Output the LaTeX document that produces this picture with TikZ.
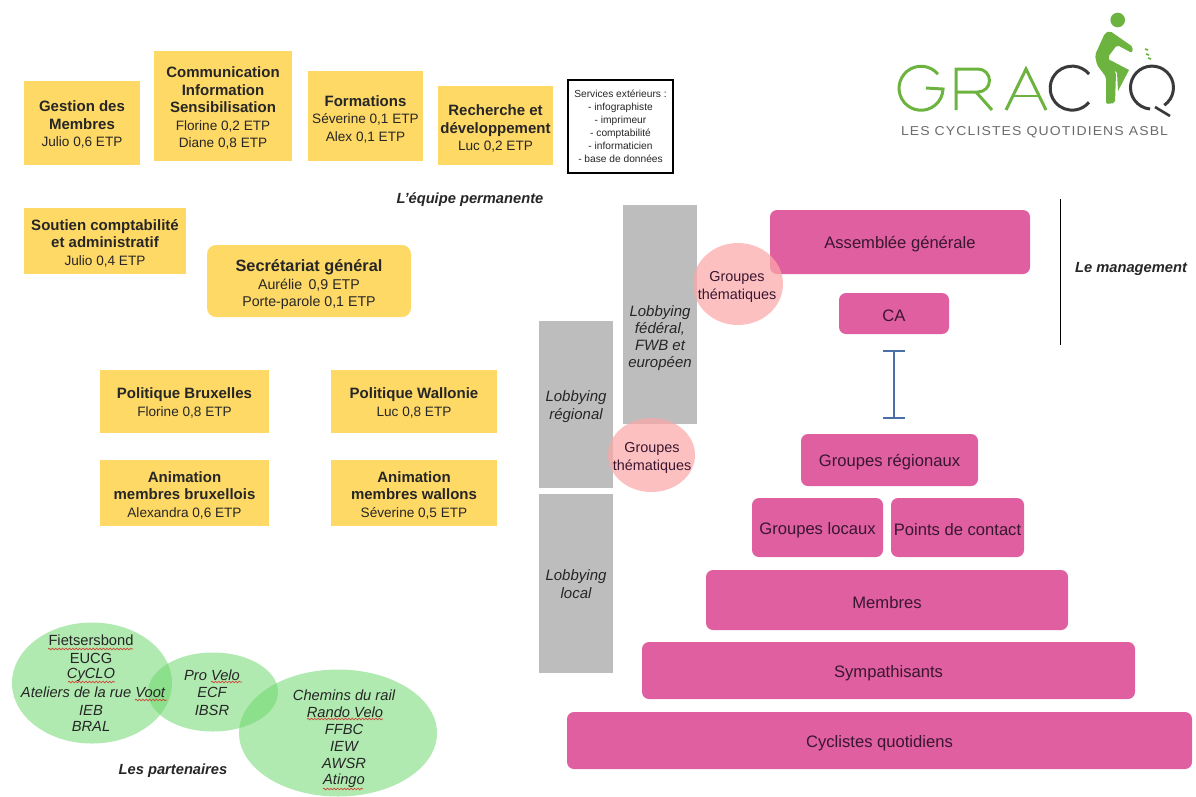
\documentclass[tikz,border=0pt]{standalone}
\usepackage{fontspec}
\usepackage{graphicx}
\setmainfont{Liberation Sans}
\newfontfamily\tagfont[LetterSpace=8]{Liberation Sans}
\usetikzlibrary{arrows.meta,decorations.pathmorphing,shapes.geometric}
\definecolor{yel}{HTML}{FFD966}
\definecolor{mag}{HTML}{DF5FA0}
\definecolor{gry}{HTML}{BDBDBD}
\definecolor{pinkc}{HTML}{FBA8A8}
\definecolor{grn}{HTML}{6FD86F}
\definecolor{txt}{HTML}{262626}
\definecolor{plum}{HTML}{3A1630}
\definecolor{logog}{HTML}{6DB33F}
\definecolor{logod}{HTML}{3A3A3A}
\definecolor{ibar}{HTML}{4A6EA8}
\definecolor{wavec}{HTML}{D0473A}
\newcommand{\fa}{\fontsize{15}{17.6}\selectfont}
\newcommand{\fb}{\fontsize{13.6}{17.6}\selectfont}
\newcommand{\hd}[1]{{\fa\bfseries #1}}
\newcommand{\ft}[2]{\rule{0pt}{#1pt}\hd{#2}}
\tikzset{
  x=1pt,y=-1pt,
  ybox/.style={fill=yel,draw=none,inner sep=0pt,align=center,text=txt,font=\fb},
  ygrp/.style={ybox,rounded corners=9pt},
  mbox/.style={fill=mag,draw=none,rounded corners=7pt,inner sep=0pt,align=center,text=plum,font=\fontsize{16.6}{19}\selectfont,execute at begin node={\rule{0pt}{16.5pt}}},
  gbox/.style={fill=gry,draw=none,inner sep=0pt,align=center,text=txt,font=\fontsize{15}{18}\selectfont\itshape},
  glab/.style={inner sep=0pt,align=center,text=txt,font=\fontsize{15}{17}\selectfont\itshape},
  pinkel/.style={ellipse,fill=pinkc,fill opacity=.72,draw=none,inner sep=0pt},
  circlab/.style={align=center,text=plum,font=\fontsize{14.4}{17.8}\selectfont,inner sep=0pt},
  grel/.style={ellipse,fill=grn,fill opacity=.55,draw=none,inner sep=0pt},
  ptxt/.style={inner sep=0pt,text=txt,font=\fontsize{14.7}{16}\selectfont\itshape},
  ptxu/.style={inner sep=0pt,text=txt,font=\fontsize{14.7}{16}\selectfont},
  capt/.style={inner sep=0pt,text=txt,font=\fontsize{14.7}{16}\selectfont\itshape\bfseries},
  wavy/.style={draw=wavec,line width=.7pt,decorate,decoration={snake,amplitude=.8pt,segment length=3.4pt}},
  lg/.style={draw=logog,line width=3pt},
  ld/.style={draw=logod,line width=3pt},
}
\begin{document}
\begin{tikzpicture}
\useasboundingbox (0,0) rectangle (1196,796);
% yellow boxes
\node[ybox,minimum width=116pt,minimum height=84pt] (gest) at (82,123) {\ft{14}{Gestion des}\\\hd{Membres}\\Julio 0,6 ETP};
\node[ybox,minimum width=138pt,minimum height=110pt] (comm) at (223,106) {\ft{15}{Communication}\\\hd{Information}\\\hd{Sensibilisation}\\Florine 0,2 ETP\\Diane 0,8 ETP};
\node[ybox,minimum width=115pt,minimum height=90pt] (form) at (365.5,116) {\ft{17}{Formations}\\Séverine 0,1 ETP\\Alex 0,1 ETP};
\node[ybox,minimum width=115pt,minimum height=79pt] (rech) at (495.5,125.5) {\ft{17}{Recherche et}\\\hd{développement}\\Luc 0,2 ETP};
\node[draw=black,line width=1.2pt,fill=white,minimum width=105pt,minimum height=93pt,inner sep=0pt,align=center,text=txt,font=\fontsize{10.2}{12.9}\selectfont] (serv) at (620.5,126.5) {Services extérieurs :\\- infographiste\\- imprimeur\\- comptabilité\\- informaticien\\- base de données};
\node[capt] (equipe) at (470,200) {L'équipe permanente};
\node[ybox,minimum width=162pt,minimum height=66pt] (sout) at (105,241) {\ft{15}{Soutien comptabilité}\\\hd{et administratif}\\Julio 0,4 ETP};
\node[ygrp,minimum width=204pt,minimum height=72pt,font=\fontsize{14.2}{17.6}\selectfont] (secr) at (309,281) {\rule{0pt}{19pt}{\fontsize{16.3}{17.6}\selectfont\bfseries Secrétariat général}\\Aurélie\, 0,9 ETP\\Porte-parole 0,1 ETP};
\node[ybox,minimum width=169pt,minimum height=63pt] (polb) at (184.5,401.5) {\ft{14}{Politique Bruxelles}\\Florine 0,8 ETP};
\node[ybox,minimum width=166pt,minimum height=63pt] (polw) at (414,401.5) {\ft{14}{Politique Wallonie}\\Luc 0,8 ETP};
\node[ybox,minimum width=169pt,minimum height=66pt] (anib) at (184.5,493) {\ft{15}{Animation}\\\hd{membres bruxellois}\\Alexandra 0,6 ETP};
\node[ybox,minimum width=166pt,minimum height=66pt] (aniw) at (414,493) {\ft{15}{Animation}\\\hd{membres wallons}\\Séverine 0,5 ETP};
% grey columns
\node[gbox,minimum width=74pt,minimum height=219pt] (fed) at (660,314.5) {};
\node[glab] (fedt) at (660,338) {Lobbying\\fédéral,\\FWB et\\européen};
\node[gbox,minimum width=74pt,minimum height=167pt] (reg) at (576,404.5) {\rule{0pt}{15pt}Lobbying\\régional};
\node[gbox,minimum width=74pt,minimum height=179pt] (loc) at (576,583.5) {\rule{0pt}{12pt}Lobbying\\local};
% magenta boxes
\node[mbox,minimum width=260pt,minimum height=64pt] (ag) at (900,242) {Assemblée générale};
\node[mbox,minimum width=110pt,minimum height=41pt] (ca) at (894,313.5) {CA};
\node[mbox,minimum width=177pt,minimum height=52pt] (greg) at (889.5,460) {Groupes régionaux};
\node[mbox,minimum width=131pt,minimum height=59pt] (gloc) at (817.5,527.5) {Groupes locaux};
\node[mbox,minimum width=133pt,minimum height=59pt] (pcon) at (957.5,527.5) {Points de contact};
\node[mbox,minimum width=362pt,minimum height=60pt] (memb) at (887,600) {Membres};
\node[mbox,minimum width=493pt,minimum height=57pt] (symp) at (888.5,670.5) {Sympathisants};
\node[mbox,minimum width=625pt,minimum height=57pt] (cycl) at (879.5,740.5) {Cyclistes quotidiens};
% pink circles
\node[pinkel,minimum width=90pt,minimum height=82pt] (th1) at (738,284) {};
\node[circlab] (th1t) at (737,287) {Groupes\\thématiques};
\node[pinkel,minimum width=87pt,minimum height=74pt] (th2) at (651.5,455) {};
\node[circlab] (th2t) at (652,458) {Groupes\\thématiques};
% I-bar and management rule
\coordinate (ibt) at (894,350);
\coordinate (ibb) at (894,419);
\draw[ibar,line width=2pt,{Bar[width=22pt,line width=1.6pt]}-{Bar[width=22pt,line width=1.6pt]}] (ibt) -- (ibb);
\coordinate (mt) at (1060,199);
\coordinate (mb) at (1060,345);
\draw[black,line width=1pt] (mt) -- (mb);
\node[capt] (mgt) at (1131,269) {Le management};
% green ellipses
\node[grel,minimum width=160pt,minimum height=121pt] (e1) at (92,683) {};
\node[grel,minimum width=130pt,minimum height=79pt] (e2) at (213,692) {};
\node[grel,minimum width=198pt,minimum height=127pt] (e3) at (338,733) {};
\node[ptxu] (p1) at (91,640) {Fietsersbond};
\node[ptxu] (p2) at (91,658) {EUCG};
\node[ptxt] (p3) at (91,675) {CyCLO};
\node[ptxt] (p4) at (93,692) {Ateliers de la rue Voot};
\node[ptxt] (p5) at (91,710) {IEB};
\node[ptxt] (p6) at (91,726) {BRAL};
\node[ptxt] (p7) at (212,675) {Pro Velo};
\node[ptxt] (p8) at (212,692) {ECF};
\node[ptxt] (p9) at (212,710) {IBSR};
\node[ptxt] (p10) at (344,695) {Chemins du rail};
\node[ptxt] (p11) at (345,712) {Rando Velo};
\node[ptxt] (p12) at (344,729) {FFBC};
\node[ptxt] (p13) at (344,746) {IEW};
\node[ptxt] (p14) at (344,763) {AWSR};
\node[ptxt] (p15) at (344,781) {Atingo};
\node[capt] (part) at (173,771) {Les partenaires};
% spell-check underlines
\draw[wavy] (48,649) -- (133,649);
\draw[wavy] (68,682) -- (115,682);
\draw[wavy] (135,700) -- (167,700);
\draw[wavy] (211,682) -- (242,682);
\draw[wavy] (307,719) -- (383,719);
\draw[wavy] (323,789) -- (363,789);
% logo
\draw[lg] (937.9,74.1) arc[start angle=40,end angle=358,radius=22pt] -- (926,88);
\draw[lg] (956,110) -- (956,69) -- (978,69) arc[start angle=90,end angle=-90,radius=11.5pt] -- (956,92);
\draw[lg] (976,92) -- (992,110);
\draw[lg] (1006,110) -- (1026,69) -- (1046,110);
\draw[lg,line width=2pt] (1014,96) -- (1038,96);
\draw[ld] (1089,74) arc[start angle=40,end angle=320,radius=22pt];
\draw[ld] (1164.3,105.2) arc[start angle=-55,end angle=265,radius=21.5pt];
\draw[ld,line width=2.6pt] (1155,107) -- (1170,116);
\fill[logog] (1117.7,20) circle[radius=7.3pt];
\fill[logog,rounded corners=2pt] (1110,31) -- (1133,47) -- (1132,53) -- (1117,45) -- (1108,57) -- (1116,73) -- (1115,103) -- (1106,104) -- (1106,77) -- (1097,65) -- (1095,55) -- (1105,33) -- cycle;
\fill[logog] (1110,60) -- (1129,70) -- (1118,91) -- (1117,73) -- (1110,65) -- cycle;
\draw[logog,line width=1.6pt] (1145,49) -- (1148,50) (1146,54) -- (1149,55) (1148,58) -- (1151,59);
\node[inner sep=0pt,text=logod!75] (tag) at (1034.5,132) {\resizebox{267pt}{9pt}{\tagfont LES CYCLISTES QUOTIDIENS ASBL}};
\end{tikzpicture}
\end{document}
